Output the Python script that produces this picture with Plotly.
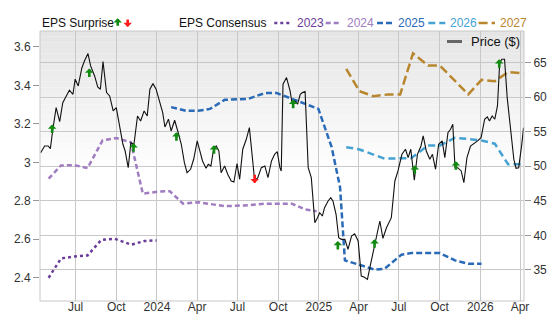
import plotly.graph_objects as go

# ---------------- data ----------------
cons2023_dates = ["2023-05-01","2023-05-29","2023-06-29","2023-07-28","2023-08-28","2023-09-27","2023-11-04","2023-12-04","2023-12-31"]
cons2023_vals  = [2.40, 2.50, 2.511, 2.516, 2.596, 2.603, 2.572, 2.591, 2.594]

cons2024_dates = ["2023-05-01","2023-05-29","2023-06-29","2023-07-28","2023-08-31","2023-10-01","2023-11-03","2023-11-30","2024-01-10","2024-01-30","2024-02-29","2024-04-03","2024-06-02","2024-07-17","2024-09-01","2024-10-12","2024-11-01","2024-12-01","2024-12-27"]
cons2024_vals  = [2.915, 2.984, 2.985, 2.97, 3.114, 3.126, 3.105, 2.837, 2.849, 2.85, 2.785, 2.793, 2.772, 2.776, 2.785, 2.785, 2.785, 2.755, 2.746]

cons2025_dates = ["2024-02-02","2024-03-07","2024-04-03","2024-04-30","2024-06-02","2024-07-25","2024-09-01","2024-09-28","2024-10-13","2024-11-16","2024-12-31","2025-01-30","2025-02-18","2025-03-01","2025-04-15","2025-05-08","2025-05-30","2025-07-07","2025-07-29","2025-10-02","2025-11-05","2025-12-05","2026-01-04"]
cons2025_vals  = [3.287, 3.268, 3.268, 3.278, 3.325, 3.33, 3.36, 3.36, 3.347, 3.318, 3.278, 3.079, 2.871, 2.49, 2.459, 2.442, 2.447, 2.52, 2.528, 2.528, 2.49, 2.473, 2.473]

cons2026_dates = ["2025-03-04","2025-04-03","2025-05-30","2025-07-07","2025-07-29","2025-09-05","2025-10-02","2025-11-05","2026-01-04","2026-02-03","2026-03-05","2026-04-09"]
cons2026_vals  = [3.079, 3.067, 3.019, 3.019, 3.022, 3.088, 3.088, 3.128, 3.114, 3.097, 2.99, 2.99]

cons2027_dates = ["2025-03-04","2025-04-03","2025-05-04","2025-06-07","2025-07-04","2025-08-02","2025-09-05","2025-10-02","2025-12-05","2026-01-04","2026-02-03","2026-03-05","2026-04-09"]
cons2027_vals  = [3.486, 3.37, 3.344, 3.353, 3.353, 3.567, 3.503, 3.503, 3.353, 3.429, 3.422, 3.469, 3.463]

price_dates = [
    "2023-04-13","2023-04-22","2023-04-30","2023-05-05","2023-05-10","2023-05-18","2023-05-26","2023-06-02","2023-06-10","2023-06-17",
    "2023-06-25","2023-06-30","2023-07-07","2023-07-15","2023-07-21","2023-07-29","2023-08-04","2023-08-13","2023-08-20","2023-08-26",
    "2023-09-01","2023-09-09","2023-09-16","2023-09-24","2023-10-01","2023-10-09","2023-10-16","2023-10-21","2023-10-28","2023-11-03",
    "2023-11-10","2023-11-18","2023-11-25","2023-12-03","2023-12-10","2023-12-16","2023-12-23","2023-12-30","2024-01-04","2024-01-14",
    "2024-01-19","2024-01-27","2024-02-02","2024-02-10","2024-02-17","2024-02-25","2024-03-03","2024-03-09","2024-03-17","2024-03-24",
    "2024-04-01","2024-04-08","2024-04-13","2024-04-21","2024-04-26","2024-05-02","2024-05-08","2024-05-14","2024-05-20","2024-05-25",
    "2024-06-02","2024-06-09","2024-06-17","2024-06-23","2024-06-30","2024-07-06","2024-07-13","2024-07-21","2024-07-28","2024-08-09",
    "2024-08-16","2024-08-24","2024-09-01","2024-09-08","2024-09-16","2024-09-23","2024-09-29","2024-10-05","2024-10-08","2024-10-12",
    "2024-10-20","2024-10-28","2024-11-02","2024-11-08","2024-11-14","2024-11-20","2024-11-25","2024-12-01","2024-12-04","2024-12-08",
    "2024-12-15","2024-12-23","2024-12-29","2025-01-03","2025-01-09","2025-01-14","2025-01-22","2025-01-28","2025-02-02","2025-02-09",
    "2025-02-15","2025-02-21","2025-03-01","2025-03-08","2025-03-16","2025-03-23","2025-03-31","2025-04-07","2025-04-13","2025-04-21",
    "2025-04-28","2025-05-07","2025-05-15","2025-05-19","2025-05-26","2025-06-03","2025-06-14","2025-06-22","2025-06-29","2025-07-08",
    "2025-07-16","2025-07-22","2025-07-28","2025-08-05","2025-08-12","2025-08-20","2025-08-25","2025-09-01","2025-09-09","2025-09-15",
    "2025-09-22","2025-09-29","2025-10-07","2025-10-13","2025-10-20","2025-10-26","2025-10-31","2025-11-05","2025-11-11","2025-11-19",
    "2025-11-25","2025-12-02","2025-12-10","2025-12-19","2025-12-26","2026-01-03","2026-01-11","2026-01-17","2026-01-22","2026-01-28",
    "2026-02-03","2026-02-09","2026-02-14","2026-02-19","2026-02-25","2026-03-03","2026-03-11","2026-03-18","2026-03-23","2026-03-29",
    "2026-04-05","2026-04-09"]
price_vals = [
    51.95, 52.92, 52.92, 52.53, 55.09, 58.47, 56.44, 59.19, 60.16, 60.98,
    60.40, 62.58, 61.60, 64.17, 65.22, 66.28, 64.50, 63.05, 61.46, 61.13,
    65.12, 60.64, 60.16, 57.99, 58.47, 55.57, 53.17, 52.20, 49.78, 53.40,
    53.17, 57.26, 56.54, 57.99, 57.26, 61.13, 61.94, 61.13, 59.91, 57.74,
    55.67, 56.79, 55.09, 56.64, 55.09, 53.17, 50.51, 49.06, 49.55, 51.00,
    53.65, 51.72, 50.75, 49.70, 50.27, 50.03, 52.45, 52.92, 52.20, 49.06,
    50.03, 48.83, 47.86, 47.71, 50.36, 48.10, 52.45, 53.89, 55.57, 47.86,
    48.34, 49.78, 50.03, 48.34, 50.75, 51.72, 52.10, 49.78, 49.30, 61.85,
    62.81, 60.88, 58.96, 59.44, 58.96, 60.40, 60.64, 60.78, 56.06, 49.78,
    48.34, 41.82, 42.55, 43.27, 42.79, 43.99, 44.96, 45.44, 44.96, 43.04,
    39.65, 39.42, 39.42, 37.97, 39.90, 40.23, 39.18, 34.11, 33.97, 33.63,
    35.80, 38.70, 41.10, 42.07, 39.57, 41.10, 42.55, 47.86, 49.31, 51.72,
    52.45, 51.23, 52.45, 47.96, 51.72, 52.92, 54.37, 52.20, 51.00, 51.72,
    49.55, 53.17, 53.65, 51.23, 54.85, 55.34, 56.06, 49.78, 49.78, 49.31,
    47.61, 51.23, 52.92, 53.26, 53.65, 54.12, 56.79, 57.12, 56.54, 57.26,
    56.79, 58.71, 64.98, 65.47, 65.47, 59.91, 55.57, 51.00, 49.70, 49.78,
    53.17, 55.57]

surprise_up_dates = ["2023-05-09","2023-08-01","2023-11-09","2024-02-14","2024-05-09","2024-11-04","2025-02-13","2025-05-07","2025-08-06","2025-11-07","2026-02-13"]
surprise_up_vals  = [55.3, 63.4, 52.6, 54.2, 52.3, 58.9, 38.45, 38.7, 49.4, 50.0, 64.75]
surprise_down_dates = ["2024-08-09"]
surprise_down_vals  = [48.25]

x_tickvals = ["2023-07-01","2023-10-01","2024-01-01","2024-04-01","2024-07-01","2024-10-01",
              "2025-01-01","2025-04-01","2025-07-01","2025-10-01","2026-01-01","2026-04-01"]
x_ticktext = ["Jul","Oct","2024","Apr","Jul","Oct","2025","Apr","Jul","Oct","2026","Apr"]
eps_ticks = [2.4, 2.6, 2.8, 3.0, 3.2, 3.4, 3.6]
eps_ticktext = ["2.4","2.6","2.8","3","3.2","3.4","3.6"]
price_ticks = [35, 40, 45, 50, 55, 60, 65]

series = [
    ("2023", cons2023_dates, cons2023_vals, "#6a3d9a", "dot", 2.5),
    ("2024", cons2024_dates, cons2024_vals, "#a07cc0", "5px,3px", 2.5),
    ("2025", cons2025_dates, cons2025_vals, "#2a6bb8", "6px,3px", 2.5),
    ("2026", cons2026_dates, cons2026_vals, "#45a2d2", "7px,4px", 2.5),
    ("2027", cons2027_dates, cons2027_vals, "#b8862e", "9px,4px", 2.5),
]

FONT = "Liberation Sans, Arial, sans-serif"
GREEN = "#128a12"
RED = "#ff1a1a"

fig = go.Figure()
for name, d, v, c, dash, w in series:
    fig.add_trace(go.Scatter(x=d, y=v, mode="lines", yaxis="y",
                             line=dict(color=c, dash=dash, width=w), showlegend=False, hoverinfo="skip"))
fig.add_trace(go.Scatter(x=price_dates, y=price_vals, mode="lines", yaxis="y2",
                         line=dict(color="#111111", width=1.1), showlegend=False))

# background gradient (top half grey -> white)
shapes = []
n = 24
for i in range(n):
    t = i / n
    c = int(229 + (255 - 229) * t)
    shapes.append(dict(type="rect", xref="paper", yref="paper", x0=0, x1=1,
                       y0=1 - 0.5 * (i + 1) / n, y1=1 - 0.5 * i / n,
                       fillcolor=f"rgb({c},{c},{c})", line=dict(width=0), layer="below"))
shapes.append(dict(type="rect", xref="paper", yref="paper", x0=0, x1=1, y0=0, y1=1,
                   line=dict(color="#c8c8c8", width=1), fillcolor="rgba(0,0,0,0)", layer="above"))

annotations = []
for d, v in zip(surprise_up_dates, surprise_up_vals):
    annotations.append(dict(x=d, y=v, xref="x", yref="y2", text="", showarrow=True,
                            arrowhead=1, arrowsize=0.55, arrowwidth=2.6, arrowcolor=GREEN,
                            ax=0, ay=10, yshift=5, standoff=0, startstandoff=0))
for d, v in zip(surprise_down_dates, surprise_down_vals):
    annotations.append(dict(x=d, y=v, xref="x", yref="y2", text="", showarrow=True,
                            arrowhead=1, arrowsize=0.55, arrowwidth=2.6, arrowcolor=RED,
                            ax=0, ay=-10, yshift=-5, standoff=0, startstandoff=0))

# legend (top row)
L, T, W, H = 40, 31, 484, 270
def px(xp):
    return (xp - L) / W
def py(yp):
    return (T + H - yp) / H

legend_y = 23
annotations.append(dict(x=px(39.5), y=py(legend_y), xref="paper", yref="paper", text="EPS Surprise",
                        showarrow=False, xanchor="left", yanchor="middle",
                        font=dict(family=FONT, size=12, color="#111")))
annotations.append(dict(x=px(117.7), y=py(18.3), xref="paper", yref="paper", text="", showarrow=True,
                        arrowhead=1, arrowsize=0.55, arrowwidth=2.6, arrowcolor=GREEN,
                        ax=0, ay=9, standoff=0, startstandoff=0))
annotations.append(dict(x=px(127.7), y=py(27), xref="paper", yref="paper", text="", showarrow=True,
                        arrowhead=1, arrowsize=0.55, arrowwidth=2.6, arrowcolor=RED,
                        ax=0, ay=-9, standoff=0, startstandoff=0))
annotations.append(dict(x=px(176.5), y=py(legend_y), xref="paper", yref="paper", text="EPS Consensus",
                        showarrow=False, xanchor="left", yanchor="middle",
                        font=dict(family=FONT, size=12, color="#111")))
leg_x = [(274.3, 292, 295.6), (325.7, 341, 346.2), (377, 393.6, 397.2), (428.3, 445.3, 448.5), (478.6, 495, 499.1)]
for (name, d, v, c, dash, w), (a, b, tx) in zip(series, leg_x):
    shapes.append(dict(type="line", xref="paper", yref="paper", x0=px(a), x1=px(b),
                       y0=py(legend_y), y1=py(legend_y), line=dict(color=c, dash=dash, width=w)))
    annotations.append(dict(x=px(tx - 1), y=py(legend_y), xref="paper", yref="paper", text=name,
                            showarrow=False, xanchor="left", yanchor="middle",
                            font=dict(family=FONT, size=12, color=c)))

# price legend inside plot
shapes.append(dict(type="line", xref="paper", yref="paper", x0=px(447), x1=px(462),
                   y0=py(41.5), y1=py(41.5), line=dict(color="#666666", width=3)))
annotations.append(dict(x=px(469), y=py(41.5), xref="paper", yref="paper", text="Price ($)",
                        showarrow=False, xanchor="left", yanchor="middle",
                        font=dict(family=FONT, size=13, color="#111")))

fig.update_layout(
    width=556, height=315,
    margin=dict(l=L, r=556 - L - W, t=T, b=315 - T - H, autoexpand=False),
    paper_bgcolor="white", plot_bgcolor="white",
    font=dict(family=FONT, size=12, color="#333"),
    showlegend=False,
    xaxis=dict(type="date", range=["2023-04-11 12:00", "2026-04-10"],
               tickvals=x_tickvals, ticktext=x_ticktext, showgrid=True, gridcolor="#c8c8c8",
               gridwidth=1, ticks="", zeroline=False, showline=False, ticklabelstandoff=-3,
               tickfont=dict(family=FONT, size=12, color="#333")),
    yaxis=dict(range=[2.279, 3.683], tickvals=eps_ticks, ticktext=eps_ticktext, showgrid=False,
               zeroline=False, ticks="outside", ticklen=6, tickcolor="#999",
               tickfont=dict(family=FONT, size=12, color="#333")),
    yaxis2=dict(range=[30.5, 69.55], tickvals=price_ticks, overlaying="y", side="right",
                showgrid=True, gridcolor="#c8c8c8", gridwidth=1, zeroline=False,
                ticks="outside", ticklen=6, tickcolor="#999",
                tickfont=dict(family=FONT, size=12, color="#333")),
    shapes=shapes,
    annotations=annotations,
)

fig.write_html("out.html")
